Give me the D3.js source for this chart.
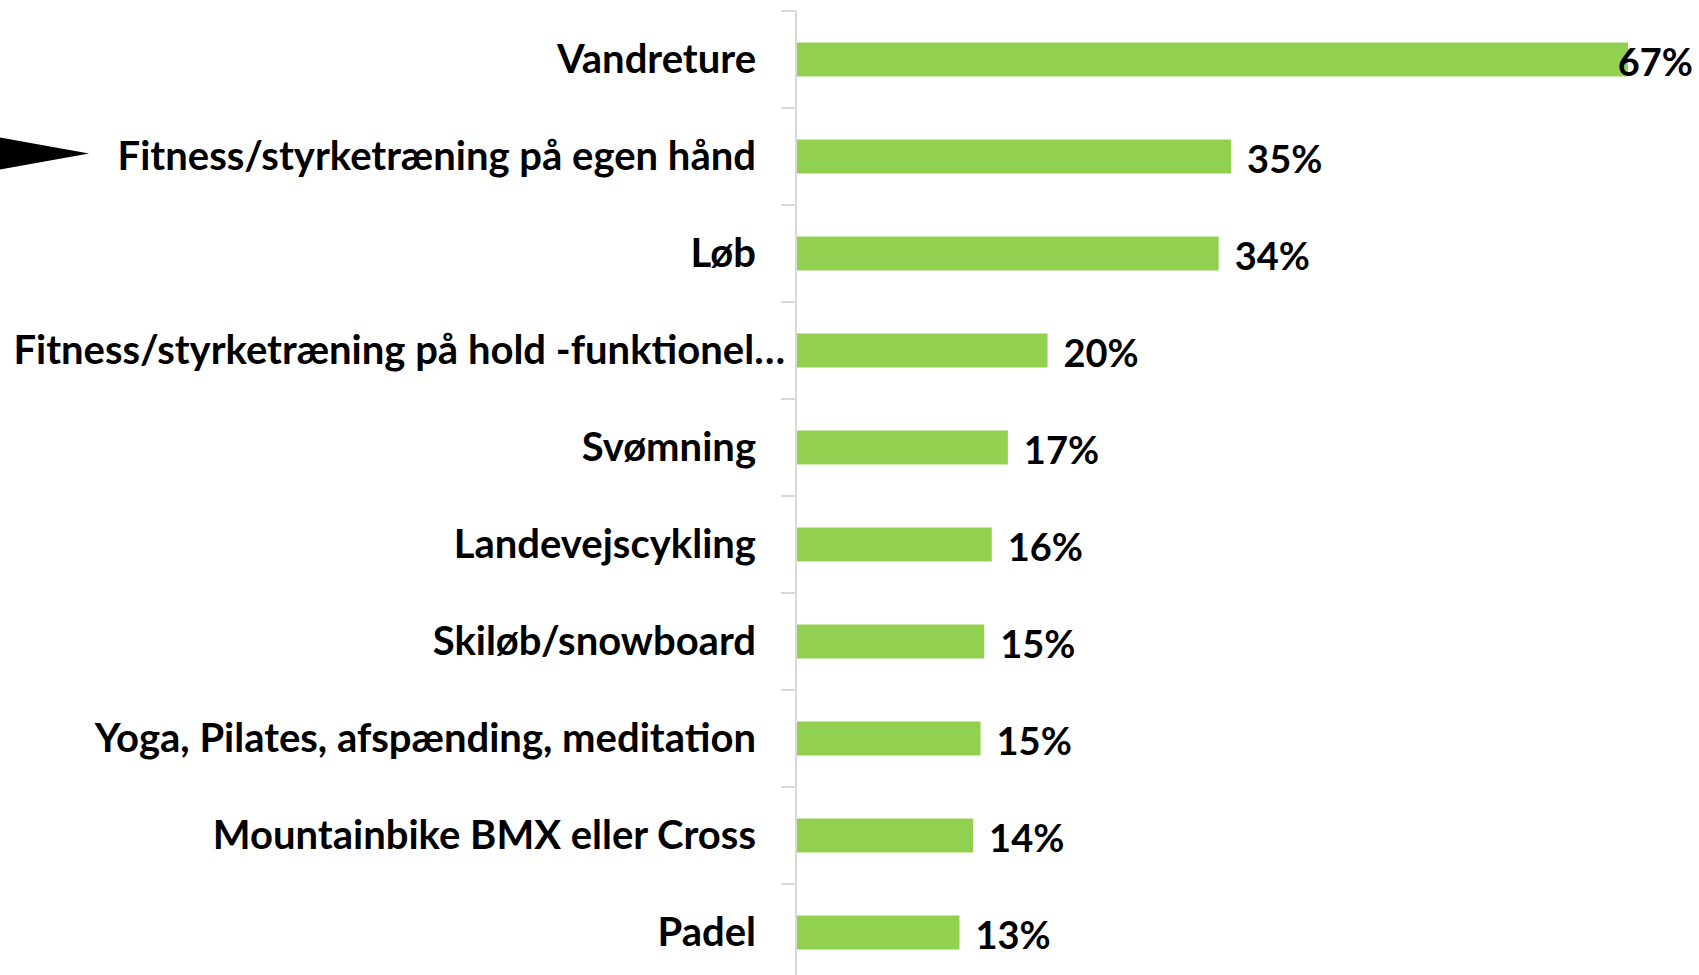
<!DOCTYPE html>
<html>
<head>
<meta charset="utf-8">
<script src="https://cdn.jsdelivr.net/npm/d3@7"></script>
<style>
  body { margin: 0; background: #fff; }
  text { font-family: Lato, "Open Sans", sans-serif; font-weight: 700; fill: #000; }
</style>
</head>
<body>
<script>
// categories, top to bottom
const activities = [
  'Vandreture',
  'Fitness/styrketræning på egen hånd',
  'Løb',
  'Fitness/styrketræning på hold -funktionel…',
  'Svømning',
  'Landevejscykling',
  'Skiløb/snowboard',
  'Yoga, Pilates, afspænding, meditation',
  'Mountainbike BMX eller Cross',
  'Padel',
];
// share in percent (labels are rounded)
const shares = [67, 35, 34, 20.2, 17, 15.7, 15.1, 14.8, 14.2, 13.1];
const highlighted = 'Fitness/styrketræning på egen hånd';

const width = 1699;
const height = 975;
const catFontSize = 40;
const valFontSize = 38;
const margin = { top: 11, left: 796, right: 6 };

const data = activities.map((name, i) => ({ name, value: shares[i] }));

const y = d3.scaleBand()
  .domain(activities)
  .range([margin.top, margin.top + 97 * activities.length])
  .paddingInner(0.65)
  .paddingOuter(0.325);

const x = d3.scaleLinear()
  .domain([0, 67])
  .range([margin.left + 1, 1628]);

const svg = d3.select('body').append('svg')
  .attr('width', width)
  .attr('height', height);

// category axis: light grey line with ticks between bands
const step = y.step();
const axisG = svg.append('g');
axisG.append('line')
  .attr('x1', margin.left).attr('x2', margin.left)
  .attr('y1', margin.top).attr('y2', height)
  .attr('stroke', '#d9d9d9').attr('stroke-width', 2);
axisG.selectAll('line.tick')
  .data(d3.range(activities.length + 1))
  .enter().append('line')
    .attr('class', 'tick')
    .attr('x1', margin.left - 15).attr('x2', margin.left)
    .attr('y1', i => margin.top + i * step)
    .attr('y2', i => margin.top + i * step)
    .attr('stroke', '#d9d9d9').attr('stroke-width', 2);

svg.selectAll('rect.bar')
  .data(data)
  .enter().append('rect')
    .attr('class', 'bar')
    .attr('x', x(0))
    .attr('y', d => y(d.name))
    .attr('width', d => x(d.value) - x(0))
    .attr('height', y.bandwidth())
    .attr('fill', '#92d050');

// category labels (the truncated one overflows to the right, as in Excel)
svg.selectAll('text.cat')
  .data(data)
  .enter().append('text')
    .attr('class', 'cat')
    .attr('x', d => d.name.endsWith('…') ? margin.left - 11 : margin.left - 40)
    .attr('y', d => y(d.name) + y.bandwidth() / 2 - 1)
    .attr('dy', '0.36em')
    .attr('text-anchor', 'end')
    .style('font-size', `${catFontSize}px`)
    .text(d => d.name);

// value labels, kept inside the chart
svg.selectAll('text.val')
  .data(data)
  .enter().append('text')
    .attr('class', 'val')
    .attr('y', d => y(d.name) + y.bandwidth() / 2 + 3)
    .attr('dy', '0.36em')
    .style('font-size', `${valFontSize}px`)
    .text(d => `${Math.round(d.value)}%`)
    .each(function (d) {
      const w = this.getComputedTextLength();
      const xPos = Math.min(x(d.value) + 16, width - margin.right - w);
      d3.select(this).attr('x', xPos);
    });

// arrow pointing at the highlighted activity
const cy = y(highlighted) + y.bandwidth() / 2 - 3;
svg.append('path')
  .attr('d', `M0,${cy - 16}L89,${cy}L0,${cy + 16}Z`)
  .attr('fill', '#000');
</script>
</body>
</html>
